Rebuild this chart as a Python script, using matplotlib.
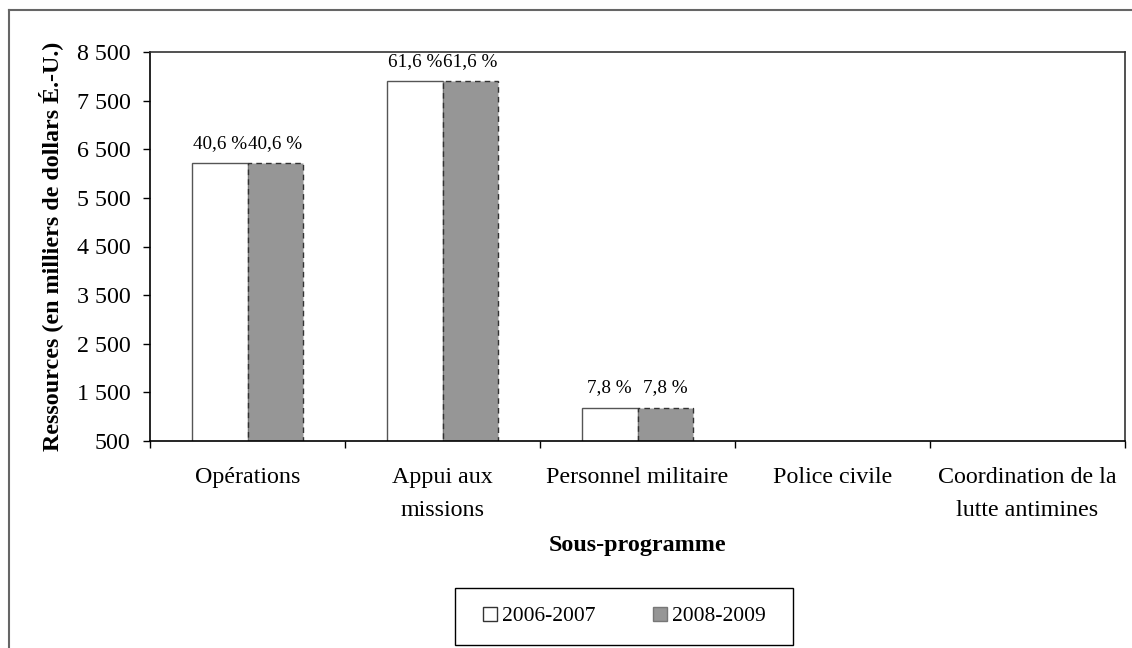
import numpy as np
import matplotlib
matplotlib.use('Agg')
import matplotlib.pyplot as plt
from matplotlib.lines import Line2D
from matplotlib.patches import Rectangle

plt.rcParams['font.family'] = ['Liberation Serif', 'DejaVu Serif']

# donnees
categories = ['Opérations', 'Appui aux\nmissions', 'Personnel militaire', 'Police civile',
              'Coordination de la\nlutte antimines']
res_2006 = [6220, 7905, 1185, 0, 0]
res_2008 = [6220, 7905, 1185, 0, 0]
pct_2006 = ['40,6 %', '61,6 %', '7,8 %', '', '']
pct_2008 = ['40,6 %', '61,6 %', '7,8 %', '', '']
yticks = [500, 1500, 2500, 3500, 4500, 5500, 6500, 7500, 8500]
series_names = ['2006-2007', '2008-2009']

W, H = 1132, 648
fig = plt.figure(figsize=(W / 100, H / 100), dpi=100)
ax = fig.add_axes([150 / W, 1 - 441 / H, 975 / W, 389 / H])

x = np.arange(len(categories)) + 0.5
w = 0.285
ax.bar(x - w / 2, res_2006, w, color='white', edgecolor='#555555', linewidth=1.0, zorder=2)
ax.bar(x + w / 2, res_2008, w, color='#969696', edgecolor='#333333', linewidth=1.0,
       linestyle=(0, (4, 3)), zorder=2)

for xi, v, t in zip(x - w / 2, res_2006, pct_2006):
    if t:
        ax.text(xi, v + 230, t, ha='center', va='bottom', fontsize=13.8)
for xi, v, t in zip(x + w / 2, res_2008, pct_2008):
    if t:
        ax.text(xi, v + 230, t, ha='center', va='bottom', fontsize=13.8)

ax.set_xlim(0, len(categories))
ax.set_ylim(500, 8500)
ax.set_yticks(yticks)
ax.set_yticklabels(['{:,}'.format(v).replace(',', ' ') for v in yticks], fontsize=17.3)
ax.tick_params(axis='y', direction='out', length=5, width=1, pad=9)

ax.set_xticks(np.arange(len(categories) + 1))
ax.set_xticklabels([])
ax.tick_params(axis='x', which='major', direction='out', length=5, width=1)
ax.set_xticks(x, minor=True)
ax.set_xticklabels(categories, minor=True, fontsize=17.3, linespacing=1.7)
ax.tick_params(axis='x', which='minor', length=0, pad=19)

for s in ['top', 'right']:
    ax.spines[s].set_color('#333333')
    ax.spines[s].set_linewidth(1.2)
for s in ['left', 'bottom']:
    ax.spines[s].set_color('black')
    ax.spines[s].set_linewidth(1.2)

ax.set_ylabel('Ressources (en milliers de dollars É.-U.)', fontsize=17.3, fontweight='bold')
ax.yaxis.set_label_coords(-0.089, 0.5)
ax.set_xlabel('Sous-programme', fontsize=17.3, fontweight='bold')
ax.xaxis.set_label_coords(0.5, -0.2416)

# legende
handles = [Line2D([], [], marker='s', linestyle='none', markersize=9.5, markerfacecolor='white',
                  markeredgecolor='#333333'),
           Line2D([], [], marker='s', linestyle='none', markersize=9.5, markerfacecolor='#969696',
                  markeredgecolor='#777777')]
fig.legend(handles, series_names, loc='center', bbox_to_anchor=(625 / W, 1 - 616 / H),
           ncol=2, fontsize=15.5, frameon=False, handlelength=0.6,
           handletextpad=0.25, columnspacing=2.7, borderpad=0)
fig.add_artist(Rectangle((455 / W, 1 - 645 / H), 338 / W, 57 / H, transform=fig.transFigure,
                         facecolor='none', edgecolor='black', linewidth=1.0))

# cadre exterieur
fig.add_artist(Line2D([9 / W, 9 / W], [0, 1 - 10 / H], color='#666666', linewidth=1.5,
                      transform=fig.transFigure))
fig.add_artist(Line2D([9 / W, 1], [1 - 10 / H, 1 - 10 / H], color='#666666', linewidth=1.5,
                      transform=fig.transFigure))

fig.savefig('out.png', dpi=100)
